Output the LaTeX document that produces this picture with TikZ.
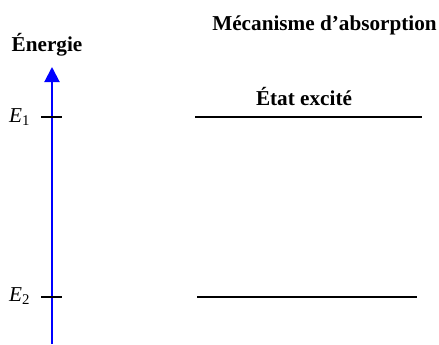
\documentclass[tikz,border=0pt]{standalone}
\usepackage{fontspec}
\setmainfont{Liberation Serif}
\usetikzlibrary{arrows.meta, positioning}

\begin{document}
\begin{tikzpicture}[
    x=0.5pt, y=-0.5pt,
    titre/.style={font=\fontsize{10.6}{12}\selectfont\bfseries, inner sep=0pt, anchor=base},
    lbl/.style={font=\fontsize{10.6}{12}\selectfont, inner sep=0pt, anchor=base east},
    axe/.style={-{Triangle[length=7.5pt, width=7.5pt]}, blue, line width=1pt},
    graduation/.style={line width=0.9pt},
    niveau/.style={line width=0.8pt}
]
\useasboundingbox (0,0) rectangle (439,344);

% ---- Titles ----
\node[titre] (meca) at (324.5, 30) {Mécanisme d’absorption};
\node[titre] (energie) at (47, 51) {Énergie};
\node[titre] (excite) at (304, 105) {État excité};

% ---- Energy axis ----
\coordinate (axe_bas) at (52, 344);
\coordinate (axe_haut) at (52, 67);
\draw[axe] (axe_bas) -- (axe_haut);

% ---- Levels E1 and E2 ----
\coordinate (t1_g) at (41, 117);
\coordinate (t1_d) at (62, 117);
\coordinate (t2_g) at (41, 297);
\coordinate (t2_d) at (62, 297);
\draw[graduation] (t1_g) -- (t1_d);
\draw[graduation] (t2_g) -- (t2_d);
\node[lbl] (e1) at (31, 122) {\textit{E}\textsubscript{1}};
\node[lbl] (e2) at (31, 301) {\textit{E}\textsubscript{2}};

\coordinate (n1_g) at (195, 117);
\coordinate (n1_d) at (422, 117);
\coordinate (n2_g) at (197, 297);
\coordinate (n2_d) at (417, 297);
\draw[niveau] (n1_g) -- (n1_d);
\draw[niveau] (n2_g) -- (n2_d);

\end{tikzpicture}
\end{document}
